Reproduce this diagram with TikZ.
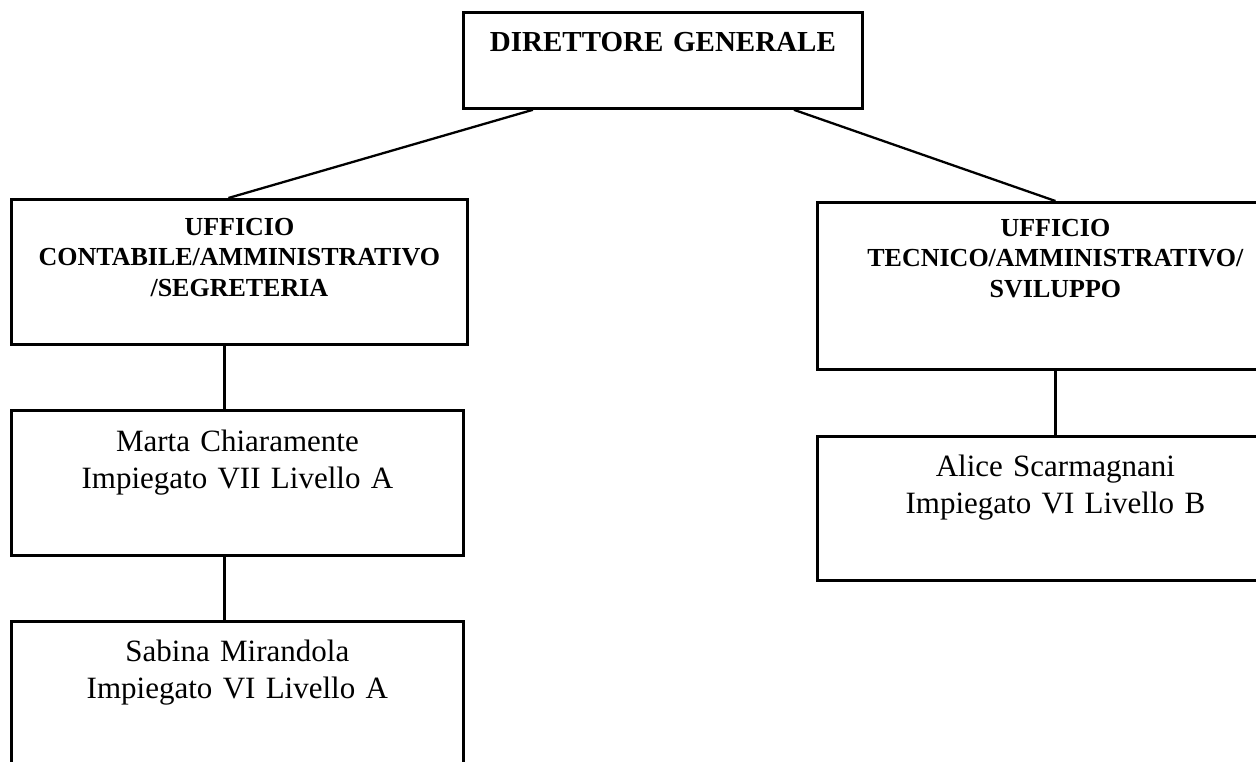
\documentclass[tikz,border=0pt]{standalone}
\usepackage{fontspec}
\setmainfont{Liberation Serif}
\usepackage{tikz}
\tikzstyle{box} = [rectangle, draw, line width=2.8pt, anchor=north west, inner sep=0pt, align=center]
\tikzstyle{director} = [box, font=\fontsize{29}{35}\selectfont\bfseries]
\tikzstyle{office} = [box, font=\fontsize{26}{30.5}\selectfont\bfseries]
\tikzstyle{employee} = [box, font=\fontsize{31}{37}\selectfont]
\tikzstyle{connector} = [draw, line width=2.3pt]
% width, height, first baseline below top edge
\tikzset{boxsize/.style n args={3}{text width=#1pt, minimum width=#1pt, minimum height=#2pt, text height=#3pt, text depth=#2pt-#3pt}}

\begin{document}
\begin{tikzpicture}[x=1pt, y=-1pt]
        \useasboundingbox (0,0) rectangle (1256,761);
        \node [director, boxsize={399}{96}{39}] at (462,11) (dg) {DIRETTORE GENERALE};
        \node [office, boxsize={456}{145}{36}] at (10,198) (contabile)
        {UFFICIO\\CONTABILE/AMMINISTRATIVO\\/SEGRETERIA};
        \node [office, boxsize={476}{167}{34}] at (816,201) (tecnico)
        {UFFICIO\\TECNICO/AMMINISTRATIVO/\\SVILUPPO};
        \node [employee, boxsize={452}{145}{41}] at (10,409) (marta)
        {Marta Chiaramente\\Impiegato VII Livello A};
        \node [employee, boxsize={452}{160}{40}] at (10,620) (sabina)
        {Sabina Mirandola\\Impiegato VI Livello A};
        \node [employee, boxsize={476}{144}{40}] at (816,435) (alice)
        {Alice Scarmagnani\\Impiegato VI Livello B};

        \path [connector] ([xshift=-130pt]dg.south) -- ([xshift=-11pt]contabile.north);
        \path [connector] ([xshift=131pt]dg.south) -- (tecnico.north);
        \path [connector] ([xshift=-15pt]contabile.south) -- ([xshift=-13pt]marta.north);
        \path [connector] ([xshift=-13pt]marta.south) -- ([xshift=-13pt]sabina.north);
        \path [connector] (tecnico.south) -- (alice.north);
    \end{tikzpicture}
\end{document}
